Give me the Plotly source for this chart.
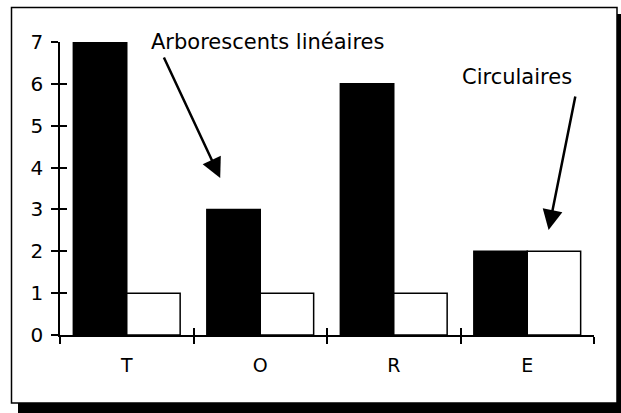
import plotly.graph_objects as go

categories = ["T", "O", "R", "E"]
arborescents = [7, 3, 6, 2]
circulaires = [1, 1, 1, 2]
y_ticks = [0, 1, 2, 3, 4, 5, 6, 7]

FONT = "DejaVu Sans"
W, H = 621, 413
L, R, T, B = 60, 27, 42, 78
pw, ph = W - L - R, H - T - B

def px(xp):
    return (xp - L) / pw

def py(yp):
    return (H - B - yp) / ph

fig = go.Figure()
fig.add_trace(go.Bar(x=categories, y=arborescents, name="Arborescents linéaires",
                     marker=dict(color="black", line=dict(color="black", width=1.5))))
fig.add_trace(go.Bar(x=categories, y=circulaires, name="Circulaires",
                     marker=dict(color="white", line=dict(color="black", width=1.5))))

fig.update_layout(
    width=W, height=H,
    margin=dict(l=L, r=R, t=T, b=B),
    paper_bgcolor="white", plot_bgcolor="rgba(0,0,0,0)",
    showlegend=False,
    barmode="group", bargap=0.2, bargroupgap=0,
    font=dict(family=FONT, size=19, color="black"),
    xaxis=dict(type="category", range=[-0.5, 3.5], showline=True, linecolor="black", linewidth=1.5,
               ticks="outside", ticklen=7, tickwidth=1.5, tickcolor="black", tickson="boundaries",
               showgrid=False, zeroline=False, tickfont=dict(size=19, family=FONT),
               ticklabelstandoff=12),
    yaxis=dict(range=[0, 7], tickvals=y_ticks, showline=True, linecolor="black", linewidth=1.5,
               ticks="outside", ticklen=7, tickwidth=1.5, tickcolor="black",
               showgrid=False, zeroline=False, tickfont=dict(size=20, family=FONT),
               ticklabelstandoff=4),
    xaxis2=dict(overlaying="x", anchor="y", range=[-0.5, 3.5], tickvals=[-0.5, 0.5, 1.5, 2.5, 3.5],
                ticks="inside", ticklen=7, tickwidth=1.5, tickcolor="black", showticklabels=False,
                showline=False, showgrid=False, zeroline=False, side="bottom"),
    yaxis2=dict(overlaying="y", anchor="x", range=[0, 7], tickvals=y_ticks,
                ticks="inside", ticklen=7, tickwidth=1.5, tickcolor="black", showticklabels=False,
                showline=False, showgrid=False, zeroline=False, side="left"),
)

# invisible trace spanning the chart range so the overlay tick axes are drawn
fig.add_trace(go.Scatter(x=[-0.5, 3.5], y=[0, 7], xaxis="x2", yaxis="y2", mode="none",
                         hoverinfo="skip", showlegend=False))

# shadow and frame
fig.add_shape(type="rect", xref="paper", yref="paper", layer="below",
              x0=px(18), x1=px(630), y0=py(420), y1=py(14),
              fillcolor="black", line=dict(width=0))
fig.add_shape(type="rect", xref="paper", yref="paper", layer="below",
              x0=px(11.5), x1=px(617), y0=py(403), y1=py(7.5),
              fillcolor="white", line=dict(color="black", width=1.5))

fig.add_annotation(text="Arborescents linéaires", xref="paper", yref="paper",
                   x=px(267), y=py(42), xanchor="center", yanchor="middle",
                   showarrow=False, font=dict(size=21, family=FONT))
fig.add_annotation(text="Circulaires", xref="paper", yref="paper",
                   x=px(517), y=py(77), xanchor="center", yanchor="middle",
                   showarrow=False, font=dict(size=21, family=FONT))

fig.add_annotation(text="", xref="x", yref="y", x=0.70, y=3.75, ax=-57, ay=-122,
                   showarrow=True, arrowhead=2, arrowsize=1.6, arrowwidth=2.5, arrowcolor="black")
fig.add_annotation(text="", xref="x", yref="y", x=3.16, y=2.51, ax=27, ay=-135,
                   showarrow=True, arrowhead=2, arrowsize=1.6, arrowwidth=2.5, arrowcolor="black")

fig.write_html("out.html", config={"displayModeBar": False},
               post_script="document.body.style.margin='0';")
